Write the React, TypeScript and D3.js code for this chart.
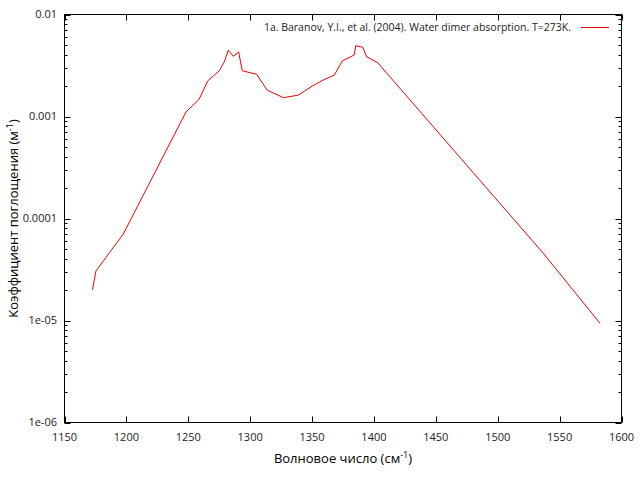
import React from "react";
import * as d3 from "d3";

const wavenumber = [1172.6, 1175.4, 1197.5, 1248.2, 1258.7, 1265.7, 1275.1, 1279.1, 1282.3, 1286.4, 1290.7, 1293.6, 1305.3, 1313.8, 1326.8, 1338.9, 1350.5, 1359.1, 1368.0, 1374.4, 1384.1, 1385.3, 1390.9, 1394.1, 1403.0, 1536.8, 1582.6];
const absorption = [2.0e-5, 3.06e-5, 7.05e-5, 1.11e-3, 1.47e-3, 2.23e-3, 2.81e-3, 3.44e-3, 4.46e-3, 3.89e-3, 4.29e-3, 2.81e-3, 2.59e-3, 1.81e-3, 1.53e-3, 1.62e-3, 2.0e-3, 2.28e-3, 2.55e-3, 3.5e-3, 4.01e-3, 4.95e-3, 4.77e-3, 3.86e-3, 3.37e-3, 4.56e-5, 9.4e-6];
const xTicks = [1150, 1200, 1250, 1300, 1350, 1400, 1450, 1500, 1550, 1600];
const yTicks = [1e-6, 1e-5, 1e-4, 1e-3, 1e-2];
const yTickLabels = ["1e-06", "1e-05", "0.0001", "0.001", "0.01"];
const legendLabel = "1a. Baranov, Y.I., et al. (2004). Water dimer absorption. T=273K.";

const W = 640, H = 480;
const L = 64.5, R = 621.5, T = 14.5, B = 422.5;
const font = "'Open Sans', sans-serif";

export default function App() {
  const x = d3.scaleLinear().domain([1150, 1600]).range([L, R]);
  const y = d3.scaleLog().domain([1e-6, 1e-2]).range([B, T]);
  const pts = wavenumber.map((w, i) => [w, absorption[i]] as [number, number]);
  const line = d3.line<[number, number]>().x(d => x(d[0])).y(d => y(d[1]));
  const minor: number[] = [];
  for (let e = -6; e < -2; e++) for (let m = 2; m <= 9; m++) minor.push(m * Math.pow(10, e));
  return (
    <svg width={W} height={H} style={{ position: "absolute", left: 0, top: 0, background: "#fff" }}>
      <rect x={0} y={0} width={W} height={H} fill="#fff" />
      <g stroke="#000" strokeWidth={1} fill="none">
        {yTicks.map((t, i) => (
          <g key={"yt" + i}>
            <line x1={L} x2={L + 6} y1={Math.round(y(t)) + 0.5} y2={Math.round(y(t)) + 0.5} />
            <line x1={R} x2={R - 6} y1={Math.round(y(t)) + 0.5} y2={Math.round(y(t)) + 0.5} />
          </g>
        ))}
        {minor.map((t, i) => (
          <g key={"ym" + i}>
            <line x1={L} x2={L + 3} y1={Math.round(y(t)) + 0.5} y2={Math.round(y(t)) + 0.5} />
            <line x1={R} x2={R - 3} y1={Math.round(y(t)) + 0.5} y2={Math.round(y(t)) + 0.5} />
          </g>
        ))}
        {xTicks.map((t, i) => (
          <g key={"xt" + i}>
            <line x1={Math.round(x(t)) + 0.5} x2={Math.round(x(t)) + 0.5} y1={B} y2={B - 6} />
            <line x1={Math.round(x(t)) + 0.5} x2={Math.round(x(t)) + 0.5} y1={T} y2={T + 6} />
          </g>
        ))}
        <rect x={L} y={T} width={R - L} height={B - T} />
      </g>
      <g fontFamily={font} fontSize={11} fill="#222">
        {yTicks.map((t, i) => (
          <text key={"yl" + i} x={57} y={y(t)} dy="0.35em" textAnchor="end">{yTickLabels[i]}</text>
        ))}
        {xTicks.map((t, i) => (
          <text key={"xl" + i} x={x(t)} y={441} textAnchor="middle">{t}</text>
        ))}
      </g>
      <text x={343} y={463} textAnchor="middle" fontFamily={font} fontSize={13} fill="#000">
        Волновое число (см<tspan dy={-5} fontSize={9}>-1</tspan><tspan dy={5}>)</tspan>
      </text>
      <text transform={`translate(18,${(T + B) / 2}) rotate(-90)`} textAnchor="middle" fontFamily={font} fontSize={13} fill="#000">
        Коэффициент поглощения (м<tspan dy={-5} fontSize={9}>-1</tspan><tspan dy={5}>)</tspan>
      </text>
      <text x={571} y={27} dy="0.35em" textAnchor="end" fontFamily={font} fontSize={10.5} fill="#222">{legendLabel}</text>
      <line x1={581} x2={609} y1={27.5} y2={27.5} stroke="#ee0000" strokeWidth={1} />
      <path d={line(pts) ?? ""} fill="none" stroke="#ee0000" strokeWidth={1} />
    </svg>
  );
}
